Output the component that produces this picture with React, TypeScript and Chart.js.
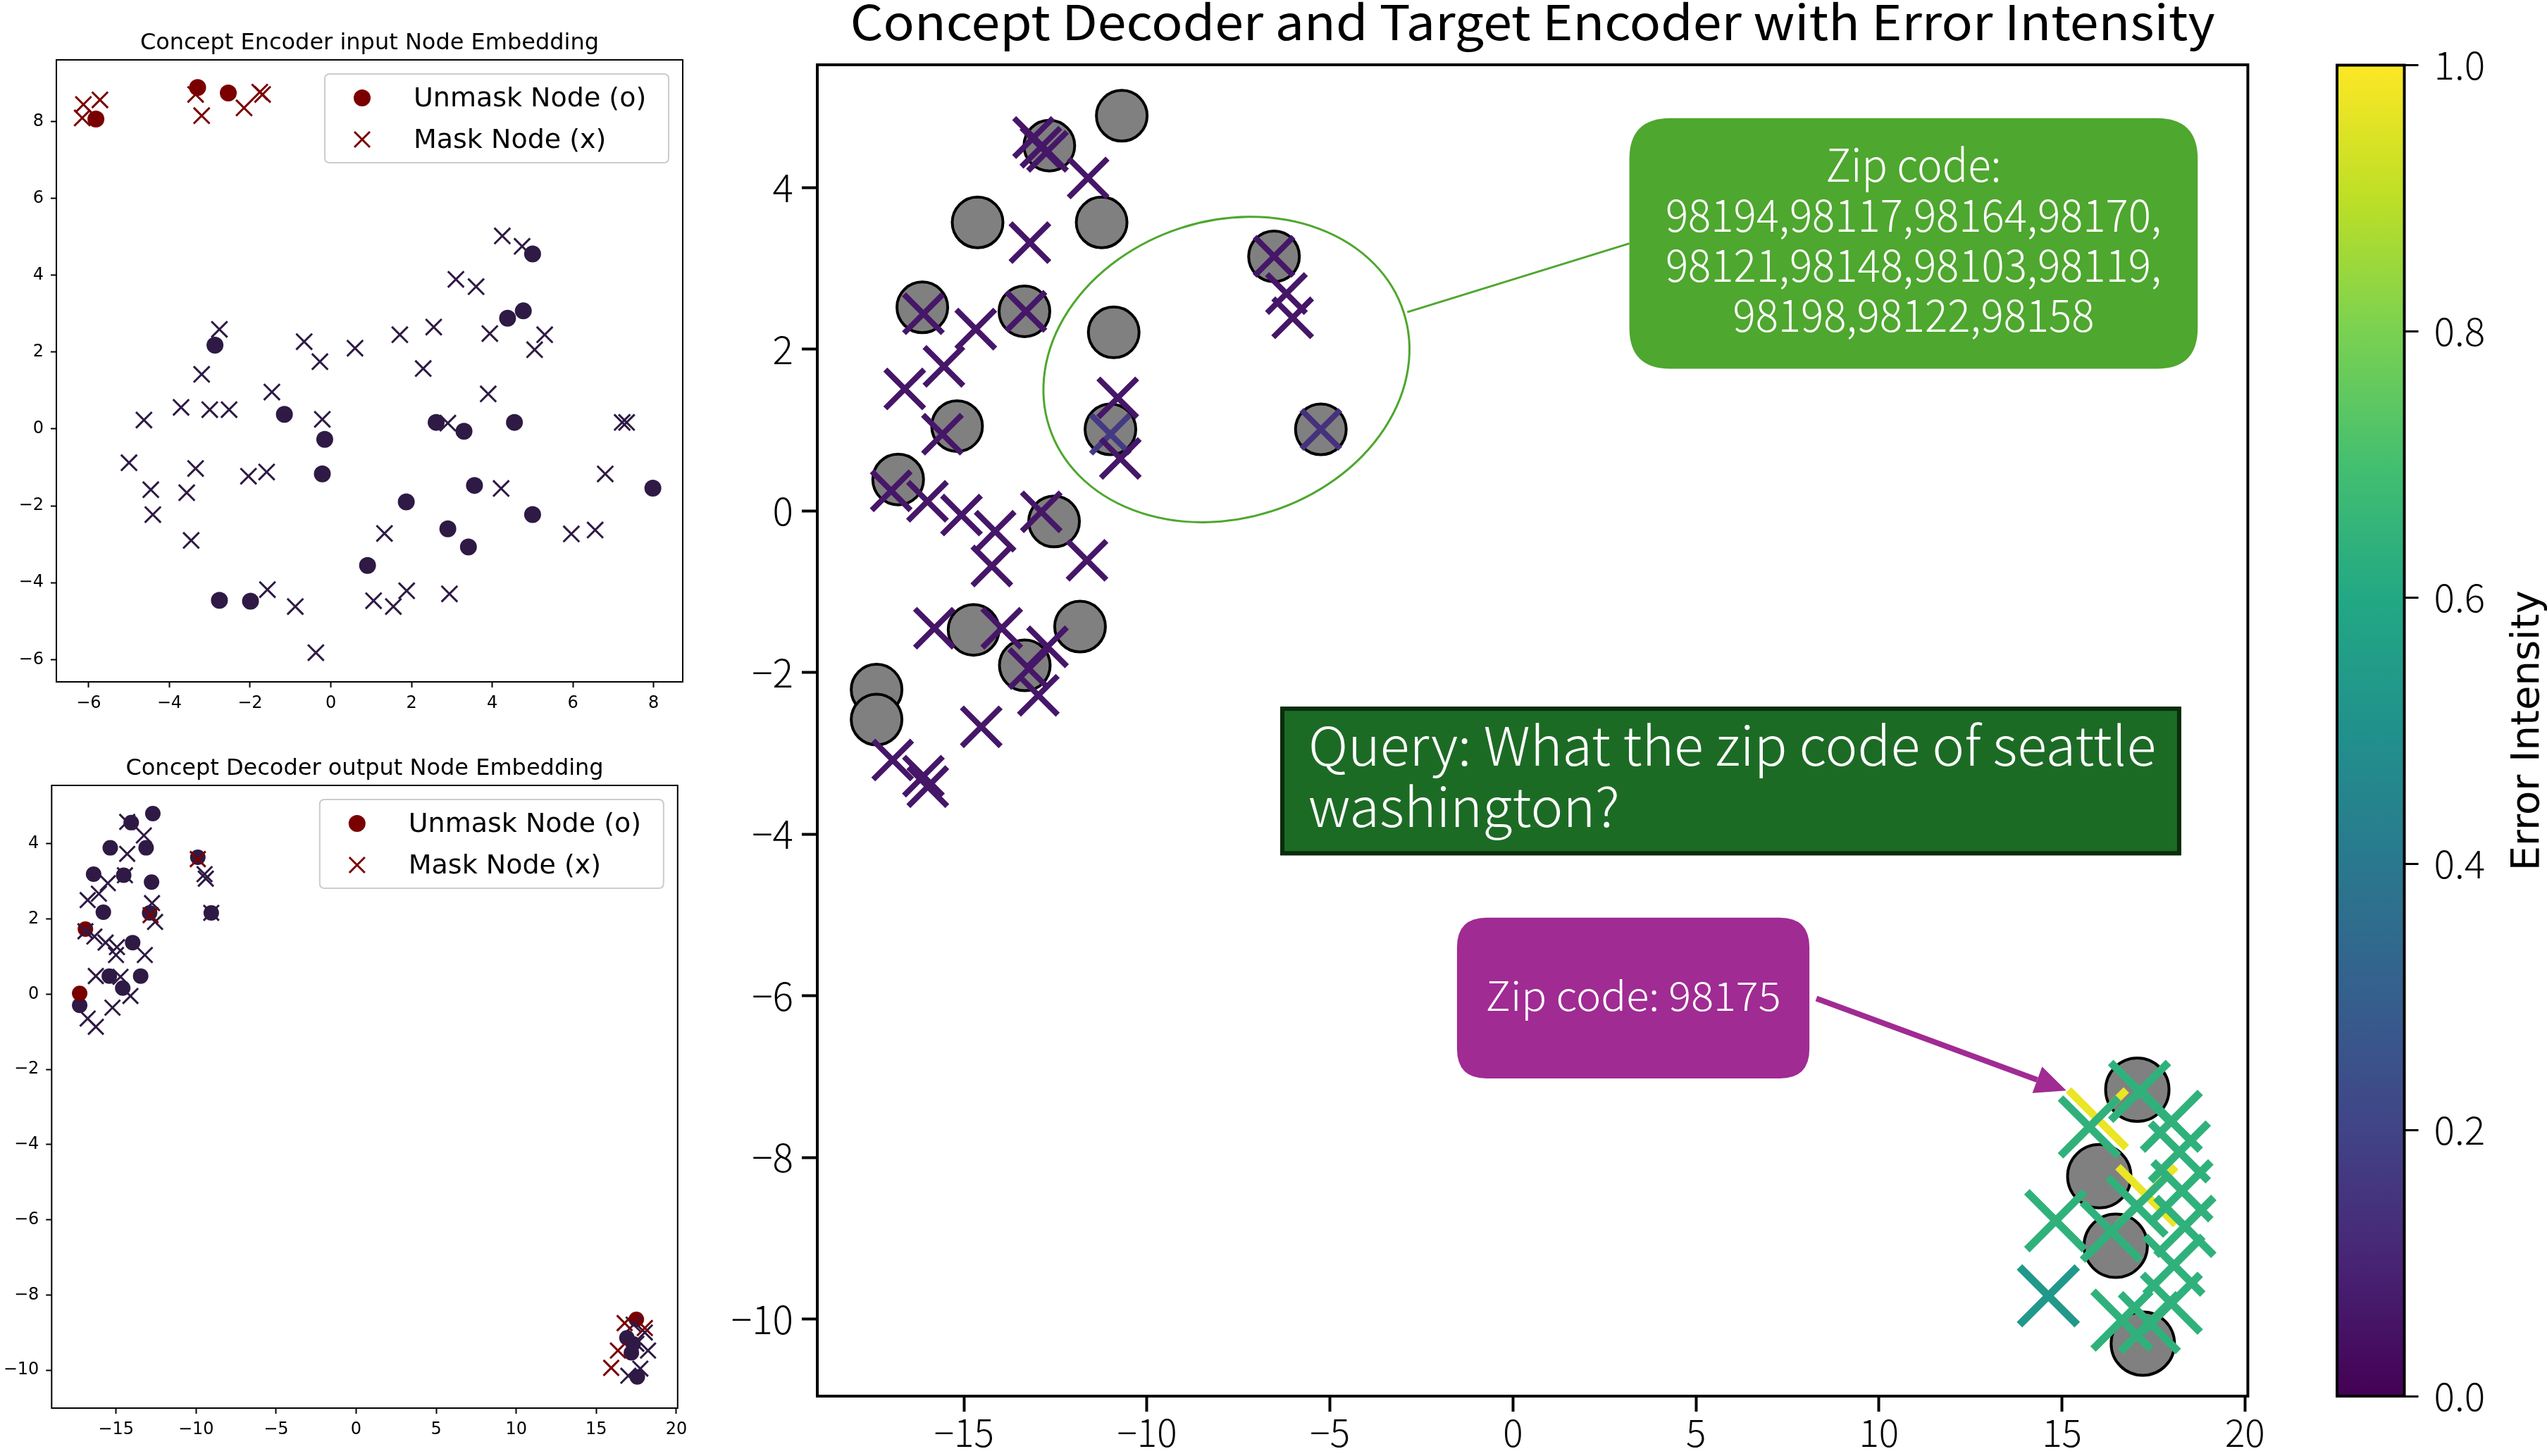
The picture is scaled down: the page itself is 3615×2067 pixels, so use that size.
import React, { useEffect, useRef } from 'react';
import { Chart, registerables } from 'chart.js';

Chart.register(...registerables);

type Pt = [number, number];

// ---------- Concept Encoder input node embedding ----------
const encUnmaskQuery: Pt[] = [[-5.82, 8.06], [-3.3, 8.88], [-2.54, 8.74]];
const encMaskQuery: Pt[] = [
  [-6.13, 8.44], [-5.72, 8.56], [-6.16, 8.09], [-3.35, 8.7], [-3.2, 8.15], [-2.15, 8.35], [-1.76, 8.76], [-1.69, 8.7],
];
const encUnmaskOther: Pt[] = [
  [5.0, 4.55], [4.38, 2.88], [4.77, 3.07], [-2.87, 2.18], [-1.15, 0.38], [-0.15, -0.27], [-0.21, -1.17],
  [2.61, 0.17], [3.3, -0.06], [4.55, 0.17], [3.56, -1.47], [7.98, -1.54], [1.87, -1.9], [2.9, -2.6],
  [5.0, -2.23], [3.41, -3.07], [0.91, -3.55], [-2.76, -4.46], [-1.99, -4.48],
];
const encMaskOther: Pt[] = [
  [4.25, 5.02], [4.74, 4.75], [3.1, 3.89], [3.6, 3.7], [-2.76, 2.59], [-0.66, 2.27], [-0.27, 1.75],
  [0.6, 2.1], [1.71, 2.45], [2.55, 2.65], [2.29, 1.57], [3.94, 2.48], [5.3, 2.45], [5.05, 2.06],
  [3.9, 0.91], [-3.2, 1.42], [-1.46, 0.96], [-3.71, 0.56], [-3.0, 0.5], [-2.52, 0.5], [-4.63, 0.23],
  [-0.21, 0.25], [2.9, 0.15], [7.22, 0.17], [7.33, 0.17], [-5.0, -0.88], [-3.35, -1.03], [-4.46, -1.58],
  [-3.57, -1.66], [-4.41, -2.23], [-3.46, -2.9], [-2.04, -1.23], [-1.59, -1.12], [4.22, -1.55],
  [6.8, -1.17], [5.96, -2.73], [6.55, -2.63], [1.33, -2.72], [1.06, -4.47], [1.55, -4.62], [1.88, -4.21],
  [2.94, -4.29], [-1.57, -4.18], [-0.88, -4.62], [-0.37, -5.82],
];
const encXTicks = [-6, -4, -2, 0, 2, 4, 6, 8];
const encYTicks = [-6, -4, -2, 0, 2, 4, 6, 8];

// ---------- Concept Decoder output node embedding ----------
const decUnmaskQuery: Pt[] = [[-16.91, 1.73], [-17.27, 0.02], [17.5, -8.65]];
const decMaskQuery: Pt[] = [
  [-9.89, 3.59], [-12.84, 2.1], [16.35, -9.48], [15.93, -9.94], [16.77, -8.75], [18.03, -8.88],
];
const decUnmaskOther: Pt[] = [
  [-12.7, 4.8], [-14.05, 4.56], [-15.36, 3.89], [-13.12, 3.89], [-16.4, 3.19], [-14.52, 3.16],
  [-12.78, 2.98], [-15.79, 2.18], [-12.9, 2.16], [-9.05, 2.16], [-9.89, 3.64], [-13.96, 1.37],
  [-15.42, 0.48], [-13.46, 0.48], [-14.58, 0.16], [-17.27, -0.3],
  [16.91, -9.14], [17.19, -9.54], [17.56, -10.18], [17.3, -9.3],
];
const decMaskOther: Pt[] = [
  [-14.3, 4.58], [-13.26, 4.22], [-14.3, 3.73], [-14.44, 3.16], [-15.51, 2.95], [-16.07, 2.67],
  [-16.77, 2.5], [-12.75, 2.42], [-12.56, 1.92], [-16.91, 1.67], [-16.35, 1.53], [-15.65, 1.37],
  [-14.94, 1.25], [-15.0, 1.04], [-13.2, 1.04], [-16.26, 0.48], [-14.72, 0.46], [-14.1, -0.05],
  [-15.22, -0.36], [-16.77, -0.65], [-16.26, -0.87], [-9.47, 3.19], [-9.39, 3.07], [-9.05, 2.16],
  [18.03, -9.0], [18.23, -9.48], [17.75, -9.96], [17.0, -10.15], [17.33, -8.79], [17.5, -9.3],
];
const decXTicks = [-15, -10, -5, 0, 5, 10, 15, 20];
const decYTicks = [-10, -8, -6, -4, -2, 0, 2, 4];

// ---------- Concept Decoder + Target Encoder, coloured by error ----------
const targetUpper: Pt[] = [
  [-10.69, 4.89], [-12.67, 4.52], [-14.63, 3.57], [-11.24, 3.57], [-16.14, 2.52], [-13.35, 2.47],
  [-10.91, 2.21], [-6.53, 3.15], [-15.19, 1.05], [-11.0, 1.01], [-5.25, 1.01], [-16.8, 0.39],
  [-12.54, -0.13], [-14.74, -1.47], [-11.83, -1.43], [-13.34, -1.91], [-17.39, -2.21], [-17.39, -2.58],
];
const targetLower: Pt[] = [[17.06, -7.16], [16.02, -8.23], [16.47, -9.09], [17.21, -10.3]];

const decodedUpper: Pt[] = [
  [-13.1, 4.62], [-12.9, 4.5], [-12.72, 4.45], [-11.61, 4.12], [-13.2, 3.32], [-6.53, 3.15],
  [-6.19, 2.69], [-6.02, 2.39], [-16.11, 2.44], [-13.31, 2.47], [-14.68, 2.25], [-15.55, 1.79],
  [-16.62, 1.51], [-10.8, 1.4], [-11.0, 0.95], [-10.73, 0.65], [-5.25, 1.01], [-15.59, 0.95],
  [-16.99, 0.25], [-16.0, 0.12], [-15.07, -0.05], [-14.15, -0.25], [-14.24, -0.68], [-12.89, -0.01],
  [-11.64, -0.61], [-15.81, -1.45], [-13.97, -1.45], [-12.72, -1.68], [-13.23, -1.95], [-12.97, -2.28],
  [-14.53, -2.67], [-16.95, -3.08], [-16.11, -3.28], [-15.99, -3.41],
];
const decodedUpperError = [
  0.06, 0.06, 0.06, 0.06, 0.06, 0.06,
  0.06, 0.06, 0.06, 0.06, 0.06, 0.06,
  0.06, 0.06, 0.17, 0.06, 0.14, 0.06,
  0.06, 0.06, 0.06, 0.06, 0.06, 0.06,
  0.06, 0.06, 0.06, 0.06, 0.06, 0.06,
  0.06, 0.06, 0.06, 0.06,
];
const decodedLower: Pt[] = [
  [15.97, -7.52], [17.32, -8.47], [17.12, -7.18], [17.99, -7.55], [15.75, -7.62], [18.21, -7.93],
  [18.28, -8.41], [18.36, -8.85], [17.05, -8.6], [14.83, -8.78], [16.35, -8.91], [18.06, -9.33],
  [17.99, -9.8], [16.64, -10.01], [17.39, -10.04], [14.63, -9.71],
];
const decodedLowerError = [0.97, 0.97, 0.64, 0.64, 0.64, 0.64, 0.64, 0.64, 0.64, 0.64, 0.64, 0.64, 0.64, 0.64, 0.64, 0.53];
const mainXTicks = [-15, -10, -5, 0, 5, 10, 15, 20];
const mainYTicks = [-10, -8, -6, -4, -2, 0, 2, 4];
const barTicks = [0, 0.2, 0.4, 0.6, 0.8, 1.0];

const zipGroupLines = ['Zip code:', '98194,98117,98164,98170,', '98121,98148,98103,98119,', '98198,98122,98158'];
const queryLines = ['Query: What the zip code of seattle', 'washington?'];
const answerLine = 'Zip code: 98175';

// ---------- styling ----------
const MAROON = '#7a0000';
const DARK = '#2e1a44';
const PINK = '#a02b93';
const JP = '"Noto Sans CJK JP", "Noto Sans", sans-serif';
const DV = '"DejaVu Sans", sans-serif';
const VIRIDIS = ['#440154', '#482475', '#414487', '#355f8d', '#2a788e', '#21918c', '#22a884', '#44bf70', '#7ad151', '#bddf26', '#fde725'];

function hexRgb(h: string) {
  return [parseInt(h.slice(1, 3), 16), parseInt(h.slice(3, 5), 16), parseInt(h.slice(5, 7), 16)];
}
function viridis(t: number) {
  const c = Math.min(1, Math.max(0, t)) * 10;
  const i = Math.min(9, Math.floor(c));
  const f = c - i;
  const a = hexRgb(VIRIDIS[i]);
  const b = hexRgb(VIRIDIS[i + 1]);
  const m = a.map((v, k) => Math.round(v + (b[k] - v) * f));
  return `rgb(${m[0]},${m[1]},${m[2]})`;
}

const signed = (v: number) => (v < 0 ? '\u2212' + Math.abs(v) : String(v));
const pts = (arr: Pt[]) => arr.map(([x, y]) => ({ x, y }));

function axis(o: any) {
  return {
    type: 'linear',
    position: o.position,
    display: true,
    min: o.min,
    max: o.max,
    afterBuildTicks: (s: any) => {
      s.ticks = o.ticks.map((v: number) => ({ value: v }));
    },
    afterFit: (s: any) => {
      if (s.isHorizontal()) s.height = o.size;
      else s.width = o.size;
    },
    grid: { display: true, drawOnChartArea: false, drawTicks: true, tickLength: o.tickLen, tickWidth: o.tickW, tickColor: '#000' },
    border: { display: false },
    ticks: {
      autoSkip: false, maxRotation: 0, minRotation: 0, padding: o.pad, color: '#000', font: o.font,
      callback: (v: any) => o.fmt(Number(v)),
    },
  };
}

function fitText(ctx: CanvasRenderingContext2D, text: string, x: number, y: number, font: string, sx: number, align: CanvasTextAlign) {
  ctx.save();
  ctx.font = font;
  ctx.translate(x, y);
  ctx.scale(sx, 1);
  ctx.textAlign = align;
  ctx.textBaseline = 'alphabetic';
  ctx.fillText(text, 0, 0);
  ctx.restore();
}
function scaleFor(ctx: CanvasRenderingContext2D, text: string, font: string, width: number) {
  ctx.save();
  ctx.font = font;
  const w = ctx.measureText(text).width;
  ctx.restore();
  return w > 0 ? width / w : 1;
}
function roundRect(ctx: CanvasRenderingContext2D, x: number, y: number, w: number, h: number, r: number) {
  ctx.beginPath();
  ctx.moveTo(x + r, y);
  ctx.lineTo(x + w - r, y);
  ctx.quadraticCurveTo(x + w, y, x + w, y + r);
  ctx.lineTo(x + w, y + h - r);
  ctx.quadraticCurveTo(x + w, y + h, x + w - r, y + h);
  ctx.lineTo(x + r, y + h);
  ctx.quadraticCurveTo(x, y + h, x, y + h - r);
  ctx.lineTo(x, y + r);
  ctx.quadraticCurveTo(x, y, x + r, y);
  ctx.closePath();
}

// small panel: frame, title and legend
function panelPlugin(title: string) {
  return {
    id: 'panel',
    afterDraw(chart: any) {
      const { ctx, chartArea: a } = chart;
      ctx.save();
      ctx.strokeStyle = '#000';
      ctx.lineWidth = 2;
      ctx.strokeRect(a.left, a.top, a.right - a.left, a.bottom - a.top);
      ctx.fillStyle = '#000';
      ctx.font = `32px ${DV}`;
      ctx.textAlign = 'center';
      ctx.textBaseline = 'alphabetic';
      ctx.fillText(title, (a.left + a.right) / 2, a.top - 15);

      const lw = 488, lh = 126;
      const lx = a.right - 20 - lw, ly = a.top + 20;
      ctx.fillStyle = 'rgba(255,255,255,0.8)';
      ctx.strokeStyle = '#cccccc';
      ctx.lineWidth = 2;
      roundRect(ctx, lx, ly, lw, lh, 7);
      ctx.fill();
      ctx.stroke();
      const r1 = ly + 34, r2 = ly + 93, mx = lx + 53;
      ctx.fillStyle = MAROON;
      ctx.beginPath();
      ctx.arc(mx, r1, 12, 0, Math.PI * 2);
      ctx.fill();
      ctx.strokeStyle = MAROON;
      ctx.lineWidth = 3;
      ctx.beginPath();
      ctx.moveTo(mx - 11, r2 - 11); ctx.lineTo(mx + 11, r2 + 11);
      ctx.moveTo(mx - 11, r2 + 11); ctx.lineTo(mx + 11, r2 - 11);
      ctx.stroke();
      ctx.fillStyle = '#000';
      ctx.font = `38px ${DV}`;
      ctx.textAlign = 'left';
      ctx.textBaseline = 'middle';
      ctx.fillText('Unmask Node (o)', lx + 126, r1 + 2);
      ctx.fillText('Mask Node (x)', lx + 126, r2 + 2);
      ctx.restore();
    },
  };
}

const baseOptions = (padding: any) => ({
  animation: false as const,
  responsive: false,
  devicePixelRatio: 1,
  events: [] as any[],
  layout: { padding },
  plugins: { legend: { display: false }, tooltip: { enabled: false }, title: { display: false } },
});

function smallConfig(title: string, d: any, xr: number[], yr: number[], xt: number[], yt: number[], padding: any, rc: number, rx: number, crossOnTop: boolean) {
  const font = { family: DV, size: 24 };
  const circ = (arr: Pt[], color: string, order: number) => ({
    data: pts(arr), pointStyle: 'circle', pointRadius: rc, borderWidth: 0, backgroundColor: color, borderColor: color, order,
  });
  const cross = (arr: Pt[], color: string, order: number) => ({
    data: pts(arr), pointStyle: 'crossRot', pointRadius: rx, borderWidth: 3, backgroundColor: color, borderColor: color, order,
  });
  const cO = crossOnTop ? 3 : 1;
  const xO = crossOnTop ? 1 : 3;
  return {
    type: 'scatter',
    data: {
      datasets: [
        circ(d.unmaskOther, DARK, cO + 1),
        circ(d.unmaskQuery, MAROON, cO),
        cross(d.maskOther, DARK, xO + 1),
        cross(d.maskQuery, MAROON, xO),
      ],
    },
    options: {
      ...baseOptions(padding),
      scales: {
        x: axis({ position: 'bottom', min: xr[0], max: xr[1], ticks: xt, size: 60, tickLen: 8, tickW: 2, pad: 8, font, fmt: signed }),
        y: axis({ position: 'left', min: yr[0], max: yr[1], ticks: yt, size: 70, tickLen: 8, tickW: 2, pad: 10, font, fmt: signed }),
      },
    },
    plugins: [panelPlugin(title)],
  };
}

// annotations of the large panel, placed in data coordinates
const mainPlugin = {
  id: 'mainAnnotations',
  afterDatasetsDraw(chart: any) {
    const { ctx } = chart;
    const X = (v: number) => chart.scales.x.getPixelForValue(v);
    const Y = (v: number) => chart.scales.y.getPixelForValue(v);
    const pxX = X(1) - X(0);
    const pxY = Y(0) - Y(1);
    ctx.save();

    // circled group and its connector
    ctx.strokeStyle = '#4ea72e';
    ctx.lineWidth = 3;
    ctx.beginPath();
    ctx.ellipse(X(-7.83), Y(1.75), 5.09 * pxX, 1.84 * pxY, -18 * Math.PI / 180, 0, Math.PI * 2);
    ctx.stroke();
    ctx.beginPath();
    ctx.moveTo(X(-2.89), Y(2.46));
    ctx.lineTo(X(3.18), Y(3.31));
    ctx.stroke();

    // candidate zip codes box
    {
      const x0 = X(3.18), x1 = X(18.71), y0 = Y(4.86), y1 = Y(1.76);
      ctx.fillStyle = '#4ea72e';
      roundRect(ctx, x0, y0, x1 - x0, y1 - y0, 58);
      ctx.fill();
      const font = `300 64px ${JP}`;
      const sx = scaleFor(ctx, zipGroupLines[1], font, 704);
      ctx.fillStyle = '#ffffff';
      zipGroupLines.forEach((t, i) => fitText(ctx, t, (x0 + x1) / 2, y0 + 90 + i * 71, font, sx, 'center'));
    }

    // query box
    {
      const x0 = X(-6.36), x1 = X(18.26), y0 = Y(-2.42), y1 = Y(-4.26);
      ctx.fillStyle = '#1c6b24';
      ctx.fillRect(x0, y0, x1 - x0, y1 - y0);
      ctx.strokeStyle = '#0b2c0d';
      ctx.lineWidth = 6;
      ctx.strokeRect(x0 + 3, y0 + 3, x1 - x0 - 6, y1 - y0 - 6);
      const font = `300 76px ${JP}`;
      const sx = scaleFor(ctx, queryLines[0], font, 1203);
      ctx.fillStyle = '#ffffff';
      queryLines.forEach((t, i) => fitText(ctx, t, x0 + 40, y0 + 84 + i * 87, font, sx, 'left'));
    }

    // answer box with arrow
    {
      const x0 = X(-1.53), x1 = X(8.1), y0 = Y(-5.03), y1 = Y(-7.02);
      ctx.fillStyle = PINK;
      roundRect(ctx, x0, y0, x1 - x0, y1 - y0, 42);
      ctx.fill();
      const font = `300 57px ${JP}`;
      const sx = scaleFor(ctx, answerLine, font, 419);
      ctx.fillStyle = '#ffffff';
      fitText(ctx, answerLine, (x0 + x1) / 2, y0 + 132, font, sx, 'center');

      const sxp = X(8.29), syp = Y(-6.03), tx = X(15.12), ty = Y(-7.17);
      const ang = Math.atan2(ty - syp, tx - sxp);
      const hl = 44, hw = 20;
      const bx = tx - hl * Math.cos(ang), by = ty - hl * Math.sin(ang);
      ctx.strokeStyle = PINK;
      ctx.fillStyle = PINK;
      ctx.lineWidth = 8;
      ctx.beginPath();
      ctx.moveTo(sxp, syp);
      ctx.lineTo(bx, by);
      ctx.stroke();
      ctx.beginPath();
      ctx.moveTo(tx, ty);
      ctx.lineTo(bx + hw * Math.sin(ang), by - hw * Math.cos(ang));
      ctx.lineTo(bx - hw * Math.sin(ang), by + hw * Math.cos(ang));
      ctx.closePath();
      ctx.fill();
    }
    ctx.restore();
  },
  afterDraw(chart: any) {
    const { ctx, chartArea: a } = chart;
    ctx.save();
    ctx.strokeStyle = '#000';
    ctx.lineWidth = 4;
    ctx.strokeRect(a.left, a.top, a.right - a.left, a.bottom - a.top);
    const title = 'Concept Decoder and Target Encoder with Error Intensity';
    const font = `400 68px ${JP}`;
    const sx = scaleFor(ctx, title, font, 1937);
    ctx.fillStyle = '#000';
    fitText(ctx, title, (a.left + a.right) / 2, 57, font, sx, 'center');
    ctx.restore();
  },
};

const barPlugin = {
  id: 'colorbar',
  beforeDatasetsDraw(chart: any) {
    const { ctx, chartArea: a } = chart;
    const g = ctx.createLinearGradient(0, a.bottom, 0, a.top);
    VIRIDIS.forEach((c, i) => g.addColorStop(i / 10, c));
    ctx.save();
    ctx.fillStyle = g;
    ctx.fillRect(a.left, a.top, a.right - a.left, a.bottom - a.top);
    ctx.restore();
  },
  afterDraw(chart: any) {
    const { ctx, chartArea: a } = chart;
    ctx.save();
    ctx.strokeStyle = '#000';
    ctx.lineWidth = 4;
    ctx.strokeRect(a.left, a.top, a.right - a.left, a.bottom - a.top);
    ctx.translate(303, (a.top + a.bottom) / 2);
    ctx.rotate(-Math.PI / 2);
    ctx.fillStyle = '#000';
    ctx.font = `56px ${DV}`;
    ctx.textAlign = 'center';
    ctx.textBaseline = 'alphabetic';
    ctx.fillText('Error Intensity', 0, 0);
    ctx.restore();
  },
};

function mainConfig() {
  const fontX = { family: JP, size: 53, weight: 300 };
  const fontY = { family: JP, size: 55, weight: 300 };
  return {
    type: 'scatter',
    data: {
      datasets: [
        { data: pts(targetUpper), pointStyle: 'circle', pointRadius: 36, borderWidth: 4, backgroundColor: '#808080', borderColor: '#000', order: 6 },
        { data: pts(targetLower), pointStyle: 'circle', pointRadius: 45, borderWidth: 4, backgroundColor: '#808080', borderColor: '#000', order: 5 },
        {
          data: pts(decodedLower), pointStyle: 'crossRot', pointRadius: 58, borderWidth: 11,
          borderColor: decodedLowerError.map(viridis), backgroundColor: decodedLowerError.map(viridis), order: 2,
        },
        {
          data: pts(decodedUpper), pointStyle: 'crossRot', pointRadius: 39, borderWidth: 8,
          borderColor: decodedUpperError.map(viridis), backgroundColor: decodedUpperError.map(viridis), order: 1,
        },
      ],
    },
    options: {
      ...baseOptions({ left: 20, top: 92, right: 109.6, bottom: 5 }),
      scales: {
        x: axis({ position: 'bottom', min: -19.01, max: 20.08, ticks: mainXTicks, size: 80, tickLen: 22, tickW: 4, pad: -2, font: fontX, fmt: signed }),
        y: axis({ position: 'left', min: -10.95, max: 5.52, ticks: mainYTicks, size: 140, tickLen: 22, tickW: 4, pad: 12, font: fontY, fmt: signed }),
      },
    },
    plugins: [mainPlugin],
  };
}

function barConfig() {
  const font = { family: JP, size: 55, weight: 300 };
  return {
    type: 'scatter',
    data: { datasets: [] as any[] },
    options: {
      ...baseOptions({ left: 17, top: 92.5, right: 0, bottom: 85 }),
      scales: {
        x: { type: 'linear', display: false, min: 0, max: 1 },
        y: axis({ position: 'right', min: 0, max: 1, ticks: barTicks, size: 202.5, tickLen: 20, tickW: 3, pad: 22, font, fmt: (v: number) => v.toFixed(1) }),
      },
    },
    plugins: [barPlugin],
  };
}

export default function App() {
  const encRef = useRef<HTMLCanvasElement>(null);
  const decRef = useRef<HTMLCanvasElement>(null);
  const mainRef = useRef<HTMLCanvasElement>(null);
  const barRef = useRef<HTMLCanvasElement>(null);

  useEffect(() => {
    const charts = [
      new Chart(encRef.current as HTMLCanvasElement, smallConfig(
        'Concept Encoder input Node Embedding',
        { unmaskQuery: encUnmaskQuery, maskQuery: encMaskQuery, unmaskOther: encUnmaskOther, maskOther: encMaskOther },
        [-6.8, 8.72], [-6.58, 9.6], encXTicks, encYTicks,
        { left: 10, top: 85, right: 31, bottom: 12 }, 12, 16, false,
      ) as any),
      new Chart(decRef.current as HTMLCanvasElement, smallConfig(
        'Concept Decoder output Node Embedding',
        { unmaskQuery: decUnmaskQuery, maskQuery: decMaskQuery, unmaskOther: decUnmaskOther, maskOther: decMaskOther },
        [-19.02, 20.08], [-11.01, 5.55], decXTicks, decYTicks,
        { left: 3.3, top: 75, right: 38.2, bottom: 8 }, 11, 15.5, true,
      ) as any),
      new Chart(mainRef.current as HTMLCanvasElement, mainConfig() as any),
      new Chart(barRef.current as HTMLCanvasElement, barConfig() as any),
    ];
    return () => charts.forEach((c) => c.destroy());
  }, []);

  const abs = (left: number, top: number, width: number, height: number) =>
    ({ position: 'absolute' as const, left, top, width, height });

  return (
    <div style={{ position: 'absolute', left: 0, top: 0, width: 3615, height: 2067, background: '#ffffff', overflow: 'hidden' }}>
      <canvas ref={encRef} width={1000} height={1040} style={abs(0, 0, 1000, 1040)} />
      <canvas ref={decRef} width={1000} height={1027} style={abs(0, 1040, 1000, 1027)} />
      <canvas ref={mainRef} width={2300} height={2067} style={abs(1000, 0, 2300, 2067)} />
      <canvas ref={barRef} width={315} height={2067} style={abs(3300, 0, 315, 2067)} />
    </div>
  );
}
